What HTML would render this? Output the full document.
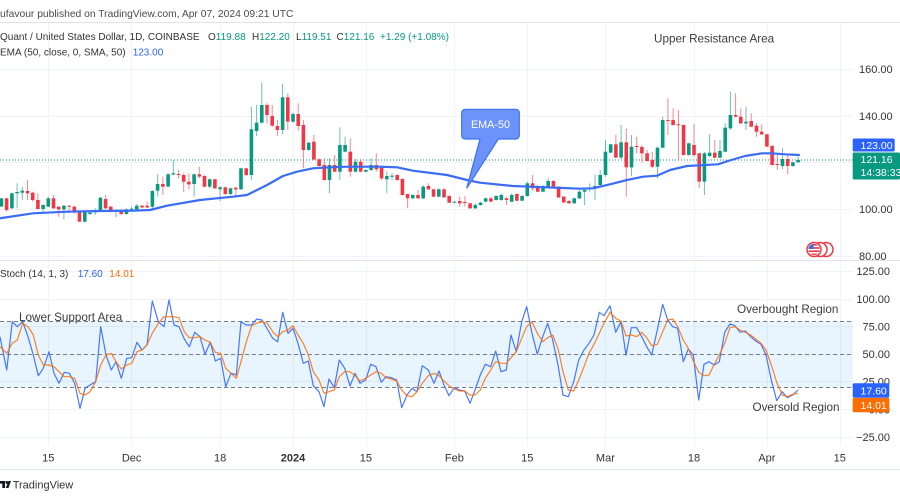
<!DOCTYPE html>
<html><head><meta charset="utf-8">
<style>
html,body{margin:0;padding:0;background:#fff;}
body{width:900px;height:500px;overflow:hidden;}
svg{display:block;font-family:"Liberation Sans",Arial,sans-serif;}
</style></head><body>
<svg id="c" width="900" height="500" viewBox="0 0 900 500" xmlns="http://www.w3.org/2000/svg">
<rect x="0" y="0" width="900" height="500" fill="#fff"/>
<g stroke="#f0f3fa" stroke-width="1">
<line x1="48.5" x2="48.5" y1="22" y2="446"/>
<line x1="131.5" x2="131.5" y1="22" y2="446"/>
<line x1="220.5" x2="220.5" y1="22" y2="446"/>
<line x1="293.5" x2="293.5" y1="22" y2="446"/>
<line x1="366.5" x2="366.5" y1="22" y2="446"/>
<line x1="454.5" x2="454.5" y1="22" y2="446"/>
<line x1="527.5" x2="527.5" y1="22" y2="446"/>
<line x1="605.5" x2="605.5" y1="22" y2="446"/>
<line x1="694.5" x2="694.5" y1="22" y2="446"/>
<line x1="767.5" x2="767.5" y1="22" y2="446"/>
<line x1="840.5" x2="840.5" y1="22" y2="446"/>
<line x1="0" x2="853" y1="69.5" y2="69.5"/>
<line x1="0" x2="853" y1="116.5" y2="116.5"/>
<line x1="0" x2="853" y1="162.5" y2="162.5"/>
<line x1="0" x2="853" y1="209.5" y2="209.5"/>
<line x1="0" x2="853" y1="256.5" y2="256.5"/>
<line x1="0" x2="853" y1="271.5" y2="271.5"/>
<line x1="0" x2="853" y1="299.5" y2="299.5"/>
<line x1="0" x2="853" y1="326.5" y2="326.5"/>
<line x1="0" x2="853" y1="354.5" y2="354.5"/>
<line x1="0" x2="853" y1="381.5" y2="381.5"/>
<line x1="0" x2="853" y1="409.5" y2="409.5"/>
<line x1="0" x2="853" y1="437.5" y2="437.5"/>
</g>
<g stroke="#e0e3eb" stroke-width="1">
<line x1="0" x2="900" y1="22.5" y2="22.5"/>
<line x1="0" x2="900" y1="260.5" y2="260.5"/>
<line x1="0" x2="900" y1="469.5" y2="469.5"/>
</g>
<rect x="0" y="321" width="853" height="66.5" fill="#2196f3" fill-opacity="0.1"/>
<g stroke="#787b86" stroke-width="1" stroke-dasharray="4 3">
<line x1="0" x2="853" y1="321.5" y2="321.5"/>
<line x1="0" x2="853" y1="354.5" y2="354.5"/>
<line x1="0" x2="853" y1="387.5" y2="387.5"/>
</g>
<line x1="0" x2="853" y1="160" y2="160" stroke="#089981" stroke-width="1" stroke-dasharray="1 2"/>
<g id="candles"></g>
<polyline fill="none" stroke="#3b6cf5" stroke-width="2.2" stroke-linejoin="round" stroke-linecap="round" points="0,218.3 33,213.3 67,211.7 100,211 133,210.7 150,210 167,205.7 200,200 233,196.7 247,195 267,185 283,176 297,171.7 313,168.3 330,167.3 347,166.7 380,166.7 397,167.3 413,170.7 447,175 467,180 480,182.7 513,186 530,186.7 563,188 580,188.7 593,188.3 610,184.3 627,180 643,176.7 657,175.7 670,170 687,166 718,164.3 728,161 745,156 762,153.3 772,153.3 785,154.3 799,155"/>
<path d="M465.7,109.3 H515.3 Q519.3,109.3 519.3,113.3 V135 Q519.3,139 515.3,139 H498.3 L466.7,188.3 L480,139 H465.7 Q461.7,139 461.7,135 V113.3 Q461.7,109.3 465.7,109.3 Z" fill="#6b93f9" stroke="#3d72f2" stroke-width="1.2"/>
<text x="490.5" y="128" font-size="10.8" fill="#fff" text-anchor="middle">EMA-50</text>
<polyline id="kl" fill="none" stroke="#2962ff" stroke-opacity="0.85" stroke-width="1.2" stroke-linejoin="round"/>
<polyline id="dl" fill="none" stroke="#ff6d00" stroke-opacity="0.85" stroke-width="1.2" stroke-linejoin="round"/>
<text x="0" y="17" font-size="10.3" fill="#4a4a4a">ufavour published on TradingView.com, Apr 07, 2024 09:21 UTC</text>
<g font-size="10" fill="#333">
<text x="0" y="40">Quant / United States Dollar, 1D, COINBASE</text>
<text x="208" y="40">O<tspan fill="#089981">119.88</tspan></text>
<text x="252" y="40">H<tspan fill="#089981">122.20</tspan></text>
<text x="296" y="40">L<tspan fill="#089981">119.51</tspan></text>
<text x="336.5" y="40">C<tspan fill="#089981">121.16</tspan></text>
<text x="380" y="40" fill="#089981">+1.29 (+1.08%)</text>
<text x="0" y="55.3">EMA (50, close, 0, SMA, 50)</text>
<text x="132.7" y="55.3" fill="#2962ff">123.00</text>
<text x="0" y="277">Stoch (14, 1, 3)</text>
<text x="77.7" y="277" fill="#2962ff">17.60</text>
<text x="109.3" y="277" fill="#ff6d00">14.01</text>
</g>
<g font-size="11.7" fill="#3d3d3d">
<text x="654" y="42.5">Upper Resistance Area</text>
<text x="19" y="321">Lower Support Area</text>
<text x="737" y="313">Overbought Region</text>
<text x="752.5" y="411">Oversold Region</text>
</g>
<g font-size="11" fill="#333">
<text x="859" y="73">160.00</text>
<text x="859" y="120">140.00</text>
<text x="859" y="166.5">120.00</text>
<text x="859" y="213">100.00</text>
<text x="859" y="260">80.00</text>
</g>
<g font-size="11" fill="#333" text-anchor="end">
<text x="890" y="275">125.00</text>
<text x="890" y="303">100.00</text>
<text x="890" y="330.7">75.00</text>
<text x="890" y="358">50.00</text>
<text x="890" y="385.7">25.00</text>
<text x="890" y="413.3">0.00</text>
<text x="890" y="441">−25.00</text>
</g>
<rect x="852.7" y="138.5" width="42" height="13" rx="1.5" fill="#2962ff"/>
<text x="860.5" y="149" font-size="10.5" fill="#fff">123.00</text>
<rect x="852.7" y="152.5" width="47.3" height="27" rx="1.5" fill="#089981"/>
<text x="860.5" y="163" font-size="10.5" fill="#fff">121.16</text>
<text x="860.5" y="176" font-size="10.5" fill="#fff">14:38:33</text>
<rect x="852.7" y="383.3" width="36.6" height="14.4" rx="1.5" fill="#2962ff"/>
<text x="860.5" y="394.5" font-size="10.5" fill="#fff">17.60</text>
<rect x="852.7" y="397.9" width="36.6" height="14.4" rx="1.5" fill="#ff6d00"/>
<text x="860.5" y="409" font-size="10.5" fill="#fff">14.01</text>
<g font-size="11" fill="#333" text-anchor="middle">
<text x="48.3" y="461.5">15</text>
<text x="131.6" y="461.5">Dec</text>
<text x="220.1" y="461.5">18</text>
<text x="293" y="461.5" font-weight="bold">2024</text>
<text x="365.9" y="461.5">15</text>
<text x="454.4" y="461.5">Feb</text>
<text x="527.3" y="461.5">15</text>
<text x="605.4" y="461.5">Mar</text>
<text x="694" y="461.5">18</text>
<text x="766.9" y="461.5">Apr</text>
<text x="839.8" y="461.5">15</text>
</g>
<defs><clipPath id="fc"><circle cx="814" cy="249.5" r="5.6"/></clipPath></defs>
<circle cx="826" cy="249.5" r="7" fill="#fff" stroke="#f23645" stroke-width="1.5"/>
<circle cx="820" cy="249.5" r="7" fill="#fff" stroke="#f23645" stroke-width="1.5"/>
<circle cx="814" cy="249.5" r="7" fill="#fff" stroke="#f23645" stroke-width="1.5"/>
<g clip-path="url(#fc)">
<rect x="806" y="244" width="16" height="1.6" fill="#f23645"/>
<rect x="806" y="247.2" width="16" height="1.6" fill="#f23645"/>
<rect x="806" y="250.4" width="16" height="1.6" fill="#f23645"/>
<rect x="806" y="253.6" width="16" height="1.6" fill="#f23645"/>
<rect x="806" y="243" width="7.5" height="6" fill="#3a6fd8"/>
</g>
<g fill="#131722">
<path d="M0,481 H5 V488 H2.3 V483.6 H0 Z"/>
<circle cx="6.8" cy="482.4" r="1.4"/>
<path d="M8.4,481 H11 L8.4,488 H5.8 Z"/>
</g>
<text x="12.7" y="488.3" font-size="11" fill="#333">TradingView</text>
</svg>
<script>
var A=[1,415,440,415,440,0,415,450,413,455,1,400,445,398,447,1,396,400,370,445,1,392,398,380,420,0,393,400,360,420,0,398,420,395,425,0,420,447,400,447,1,435,447,433,460,1,415,440,410,442,0,415,445,405,447,0,440,448,438,470,1,437,448,435,478,0,437,440,435,460,0,440,458,437,460,0,455,485,455,485,1,455,485,452,487,1,458,462,456,464,1,454,456,445,465,1,413,453,410,455,0,417,445,405,447,0,440,455,438,457,1,450,455,447,472,0,450,462,448,464,1,448,462,445,464,1,446,448,440,450,1,437,448,432,450,0,437,442,435,444,0,437,442,425,444,1,393,440,390,452,1,372,392,343,410,0,372,380,350,405,1,343,380,340,382,1,340,344,300,346,0,342,345,330,355,0,345,365,340,395,0,365,373,340,388,1,343,372,340,410,0,343,350,320,355,0,348,380,346,382,1,358,380,355,385,0,358,385,356,387,1,382,388,378,423,0,382,402,380,404,1,385,402,383,404,0,383,388,381,408,1,325,388,323,390,0,325,345,323,347,1,208,345,140,360,1,188,213,135,228,1,135,188,68,190,0,135,165,130,190,0,168,197,135,200,0,198,210,180,228,1,112,210,72,222,0,112,185,100,210,1,162,185,158,188,0,162,198,130,212];
var B=[0,165,240,150,295,1,218,240,215,242,0,215,268,195,270,0,268,288,265,290,0,285,330,265,332,1,285,330,265,370,0,285,305,255,307,1,225,305,172,330,1,225,245,200,247,0,245,305,205,320,1,275,305,268,307,0,275,305,268,307,1,300,305,298,307,1,285,300,265,302,0,285,298,250,305,0,293,325,290,330,1,318,328,305,370,1,317,320,310,330,0,315,330,313,332,0,327,375,325,377,0,372,385,372,415,1,375,385,373,387,0,375,385,360,387,1,350,385,345,387,0,348,358,340,360,0,358,380,356,382,1,358,380,355,382,0,358,382,355,384,0,378,398,376,400,1,395,398,393,400,0,393,400,380,410,0,396,398,378,410,0,400,415,398,417,1,405,415,400,418,1,398,405,395,407,1,385,395,383,397,0,385,395,380,397,1,378,390,376,392,1,375,390,370,392,0,385,390,380,405,1,375,395,370,397,0,372,392,370,394,1,378,392,375,394,1,340,378,335,380,0,340,355,315,362,0,348,365,345,367,1,348,365,345,367,1,333,350,325,352,0,333,350,330,352,0,350,382,348,384,0,380,397,378,399,0,393,400,390,402,1,385,400,383,402,1,365,385,360,387,1,360,365,358,405,1,354,356,340,365,1,348,355,315,390,1,315,345,300,347];
var C=[1,200,270,165,275,1,178,203,176,205,0,178,218,150,220,1,172,218,120,222,0,172,247,130,335,1,185,247,150,272,0,183,186,155,205,0,186,205,180,232,0,205,228,195,230,0,225,245,200,250,1,188,245,185,280,1,105,188,95,190,0,105,108,40,150,0,105,120,70,122,0,118,120,75,225,0,120,210,118,212];
var D=[1,175,210,173,212,0,180,210,118,215,0,205,290,203,310,1,205,290,200,330,1,203,213,147,215,0,203,218,165,220,1,198,218,165,220,1,128,200,115,202,1,90,130,20,135,0,90,95,25,97,0,95,115,70,117,1,110,115,65,135,0,108,125,85,127,0,122,140,115,155,0,140,148,118,150,0,148,185,146,187,0,183,240,180,242,0,237,240,205,255,1,222,243,190,252,0,222,243,210,268,1,232,243,230,245,1,225,232,215,234];
var S=5.207,X0=1.44,BW=3.6,h='',i=0;
[[60,A],[70,B],[85,C],[85,D]].forEach(function(s){var yo=s[0],d=s[1];for(var k=0;k<d.length;k+=5){var g=d[k],bt=d[k+1]/3+yo,bb=d[k+2]/3+yo,wt=d[k+3]/3+yo,wb=d[k+4]/3+yo;var x=X0+i*S;var col=g?'#089981':'#f23645';
h+='<line x1="'+x.toFixed(1)+'" x2="'+x.toFixed(1)+'" y1="'+Math.min(wt,bt).toFixed(1)+'" y2="'+Math.max(wb,bb).toFixed(1)+'" stroke="'+col+'" stroke-opacity="0.6" stroke-width="1"/>';
var hh=Math.max(bb-bt,1);
h+='<rect x="'+(x-BW/2).toFixed(1)+'" y="'+bt.toFixed(1)+'" width="'+BW+'" height="'+hh.toFixed(1)+'" fill="'+col+'"/>';i++;}});
document.getElementById('candles').innerHTML=h;
var K5=[0,245,20,345,37,200,52,215,68,200,84,245,100,300,115,362,130,340,147,290,162,355,177,385,193,352,208,355,224,385,240,460,255,400,270,390,287,380,302,215,318,300,334,345,348,320,364,370,380,310,395,308,411,262,426,285,441,270,457,138,475,200,492,215,507,135,522,210,537,215,553,252,568,275,584,232,600,245,615,298,631,262,646,318,662,310,677,395,693,355,709,360,723,200,739,210,755,210,770,192,786,195,802,222,818,250,833,260,848,172,864,235,879,220];
var K9=[84,265,100,325,115,318,130,392,147,410,162,455,177,372,193,398,208,315,224,340,240,393,255,355,270,385,287,375,302,328,318,335,334,382,348,365,364,368,380,375,395,458,411,420,426,400,441,410,457,332,475,345,492,385,507,348,522,390,537,422,553,398,568,405,584,408,600,445,615,405,631,360,646,328,662,335,677,288,693,350,709,345,723,240,739,290,755,200,770,155,786,235,802,298,818,245,833,205,848,255,864,330,879,420,895,425,911,380,926,315,942,285,957,265,972,240,988,172];
var K6=[12,182,30,152,47,232,63,200,78,300,94,218,110,218,125,245,140,275,155,300,172,225,188,148,203,195,218,215,233,220,250,320,265,282,280,300,296,435,312,328,327,320,343,330,358,320,374,232,390,207,405,212,420,232,436,228,452,245,467,258,483,268,498,300,514,375,530,437,547,410,562,428,578,420,594,405];
var D5=[0,275,20,295,37,265,52,255,68,205,84,215,100,240,115,300,130,330,147,330,162,335,177,350,193,365,208,365,224,370,240,415,255,420,270,410,287,380,302,330,318,300,334,295,348,320,364,342,380,330,395,325,411,290,426,285,441,270,457,235,475,205,492,185,507,185,522,185,537,188,553,230,568,248,584,248,600,245,615,255,631,262,646,292,662,295,677,340,693,355,709,370,723,320,739,260,755,212,770,205,786,200,802,205,818,230,833,245,848,230,864,225,879,212];
var D9=[84,240,100,265,115,300,130,350,147,375,162,415,177,410,193,405,208,365,224,350,240,350,255,362,270,378,287,370,302,360,318,350,334,355,348,368,364,372,380,378,395,405,411,422,426,425,441,410,457,385,475,362,492,355,507,362,522,378,537,392,553,402,568,408,584,408,600,420,615,420,631,405,646,370,662,345,677,320,693,325,709,325,723,308,739,290,755,250,770,215,786,200,802,235,818,260,833,248,848,240,864,280,879,350,895,405,911,408,926,375,942,335,957,295,972,268,988,235];
var D6=[12,205,30,172,47,190,63,198,78,243,94,240,110,245,125,232,140,248,155,272,172,268,188,230,203,195,218,192,233,215,250,255,265,280,280,318,296,352,312,362,327,360,343,328,358,300,374,265,390,218,405,215,420,225,436,232,452,240,467,252,483,265,498,285,514,330,530,382,547,420,562,425,578,418,594,415];
function pl(sg){var p=[];sg.forEach(function(s){var xo=s[0],d=s[1];for(var k=0;k<d.length;k+=2)p.push((xo+d[k]/3).toFixed(1)+','+(255+d[k+1]/3).toFixed(1));});return p.join(' ');}
document.getElementById('kl').setAttribute('points',pl([[0,K5],[270,K9],[600,K6]]));
document.getElementById('dl').setAttribute('points',pl([[0,D5],[270,D9],[600,D6]]));
</script>
</body></html>
